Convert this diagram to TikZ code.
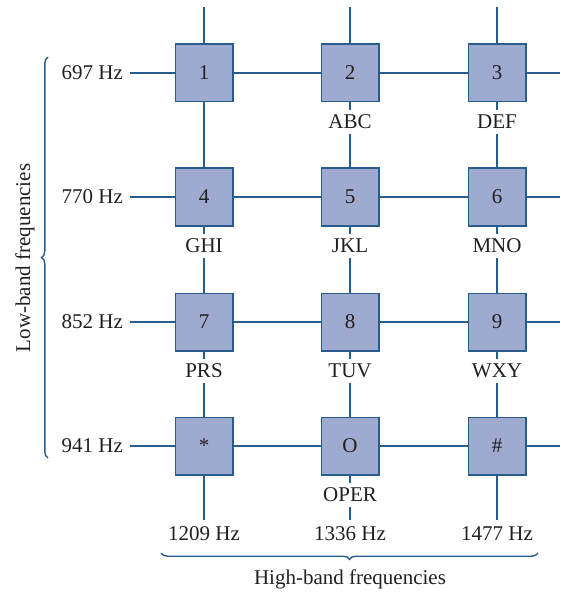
\documentclass[tikz,border=0pt]{standalone}
\usepackage{fontspec}
\setmainfont{Liberation Serif}
\usetikzlibrary{positioning, decorations.pathreplacing}
\definecolor{padblue}{RGB}{40,92,140}
\definecolor{keyfill}{RGB}{158,170,208}
\definecolor{inkgray}{RGB}{35,31,32}

\begin{document}
\begin{tikzpicture}[
    x=0.5pt, y=-0.5pt,
    key/.style={rectangle, draw=padblue, line width=0.9pt, fill=keyfill,
                minimum size=28.6pt, inner sep=0pt, font=\fontsize{10.5}{12}\selectfont, text=inkgray},
    letters/.style={fill=white, inner xsep=1pt, inner ysep=2.7pt,
                    font=\fontsize{10.5}{12}\selectfont, text=inkgray},
    freq/.style={font=\fontsize{10.5}{12}\selectfont, text=inkgray},
    wire/.style={padblue, line width=0.9pt},
    band/.style={padblue, line width=0.7pt, decorate, decoration={brace, amplitude=3.2pt}},
]
    \useasboundingbox (0,0) rectangle (563,593);

    % frequency labels and free line ends
    \node[freq, anchor=east] (f697) at (130,73)  {697 Hz};
    \node[freq, anchor=east] (f770) at (130,197) {770 Hz};
    \node[freq, anchor=east] (f852) at (130,322) {852 Hz};
    \node[freq, anchor=east] (f941) at (130,446) {941 Hz};
    \node[freq] (f1209) at (204,534) {1209 Hz};
    \node[freq] (f1336) at (350,534) {1336 Hz};
    \node[freq] (f1477) at (497,534) {1477 Hz};
    \coordinate (top1) at (204,7);
    \coordinate (top2) at (350,7);
    \coordinate (top3) at (497,7);
    \coordinate (end1) at (560,73);
    \coordinate (end2) at (560,197);
    \coordinate (end3) at (560,322);
    \coordinate (end4) at (560,446);

    \draw[wire] (top1) -- (f1209.north);
    \draw[wire] (top2) -- (f1336.north);
    \draw[wire] (top3) -- (f1477.north);
    \draw[wire] (f697.east) -- (end1);
    \draw[wire] (f770.east) -- (end2);
    \draw[wire] (f852.east) -- (end3);
    \draw[wire] (f941.east) -- (end4);

    % keys
    \node[key] (k1) at (204,73) {1};
    \node[key] (k2) at (350,73) {2};
    \node[key] (k3) at (497,73) {3};
    \node[key] (k4) at (204,197) {4};
    \node[key] (k5) at (350,197) {5};
    \node[key] (k6) at (497,197) {6};
    \node[key] (k7) at (204,322) {7};
    \node[key] (k8) at (350,322) {8};
    \node[key] (k9) at (497,322) {9};
    \node[key] (kstar) at (204,446) {\raisebox{-0.22em}{*}};
    \node[key] (k0) at (350,446) {O};
    \node[key] (khash) at (497,446) {\#};

    \node[letters] (abc)  at (350,122) {ABC};
    \node[letters] (def)  at (497,122) {DEF};
    \node[letters] (ghi)  at (204,246) {GHI};
    \node[letters] (jkl)  at (350,246) {JKL};
    \node[letters] (mno)  at (497,246) {MNO};
    \node[letters] (prs)  at (204,371) {PRS};
    \node[letters] (tuv)  at (350,371) {TUV};
    \node[letters] (wxy)  at (497,371) {WXY};
    \node[letters] (oper) at (350,495) {OPER};

    % bands
    \draw[band] (48,458) -- (48,57);
    \draw[band] (538,553) -- (161,553);
    \node[freq, rotate=90] (lowband) at (25,258) {Low-band frequencies};
    \node[freq] (highband) at (350,579) {High-band frequencies};
\end{tikzpicture}
\end{document}
